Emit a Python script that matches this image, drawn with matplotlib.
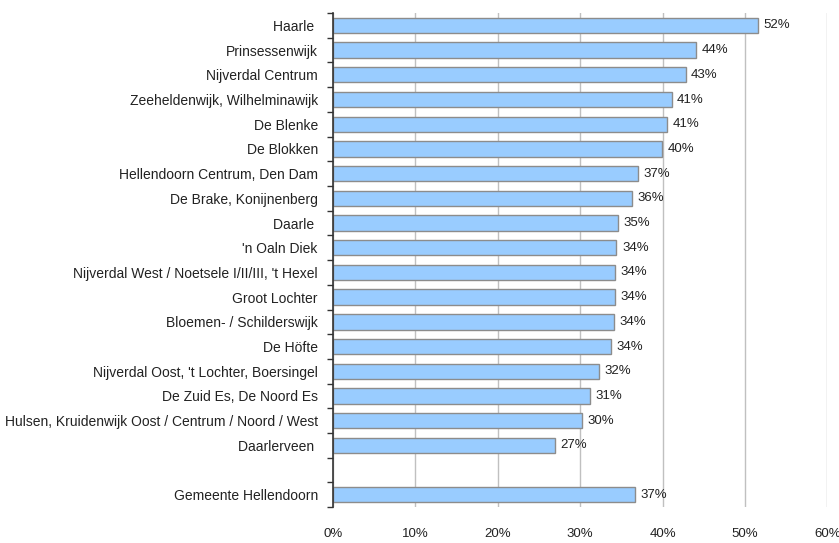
import numpy as np
import matplotlib
matplotlib.use('Agg')
import matplotlib.pyplot as plt
from matplotlib.ticker import FixedLocator, PercentFormatter

plt.rcParams['font.family'] = ['Liberation Sans', 'DejaVu Sans']

# wijken en percentages (van boven naar beneden)
wijken = [
    'Haarle ', 'Prinsessenwijk', 'Nijverdal Centrum', 'Zeeheldenwijk, Wilhelminawijk',
    'De Blenke', 'De Blokken', 'Hellendoorn Centrum, Den Dam', 'De Brake, Konijnenberg',
    'Daarle ', "'n Oaln Diek", "Nijverdal West / Noetsele I/II/III, 't Hexel",
    'Groot Lochter', 'Bloemen- / Schilderswijk', 'De Höfte',
    "Nijverdal Oost, 't Lochter, Boersingel", 'De Zuid Es, De Noord Es',
    'Hulsen, Kruidenwijk Oost / Centrum / Noord / West', 'Daarlerveen ',
]
wijk_pct = [51.6, 44.1, 42.8, 41.1, 40.6, 39.9, 37.0, 36.3, 34.6, 34.4,
            34.2, 34.2, 34.1, 33.7, 32.3, 31.2, 30.2, 26.9]

gemeente = 'Gemeente Hellendoorn'
gemeente_pct = 36.6

x_ticks = [0, 10, 20, 30, 40, 50, 60]

labels = wijken + [gemeente]
values = wijk_pct + [gemeente_pct]
pos = list(range(len(wijken))) + [len(wijken) + 1]   # lege rij voor gemeente

fig = plt.figure(figsize=(8.39, 5.43), dpi=100)
ax = fig.add_axes([0.397, 0.066, 0.589, 0.910])

ax.barh(pos, values, height=0.62, color='#99CCFF', edgecolor='#8C8C8C',
        linewidth=1.0, zorder=3)

for p, v in zip(pos, values):
    ax.annotate(f'{round(v):d}%', xy=(v, p), xytext=(4, 0), textcoords='offset points',
                va='center', ha='left', fontsize=9.5, color='#222222')

ax.set_xlim(0, 60)
ax.set_ylim(len(wijken) + 1.5, -0.5)
ax.set_xticks(x_ticks)
ax.xaxis.set_major_formatter(PercentFormatter(decimals=0))
ax.set_yticks(pos)
ax.set_yticklabels(labels)
ax.yaxis.set_minor_locator(FixedLocator(np.arange(-0.5, len(wijken) + 2, 1.0)))

ax.tick_params(axis='y', which='major', length=0, pad=11, labelsize=10, labelcolor='#222222')
ax.tick_params(axis='y', which='minor', length=4, width=1.0, color='#333333', direction='out')
ax.tick_params(axis='x', length=0, pad=15, labelsize=9.5, labelcolor='#222222')

ax.grid(axis='x', color='#C0C0C0', linewidth=1.0, zorder=0)
for side in ['top', 'right', 'bottom']:
    ax.spines[side].set_visible(False)
ax.spines['left'].set_color('#333333')
ax.spines['left'].set_linewidth(1.2)
ax.spines['left'].set_zorder(4)

plt.savefig('out.png', dpi=100)
plt.close()
